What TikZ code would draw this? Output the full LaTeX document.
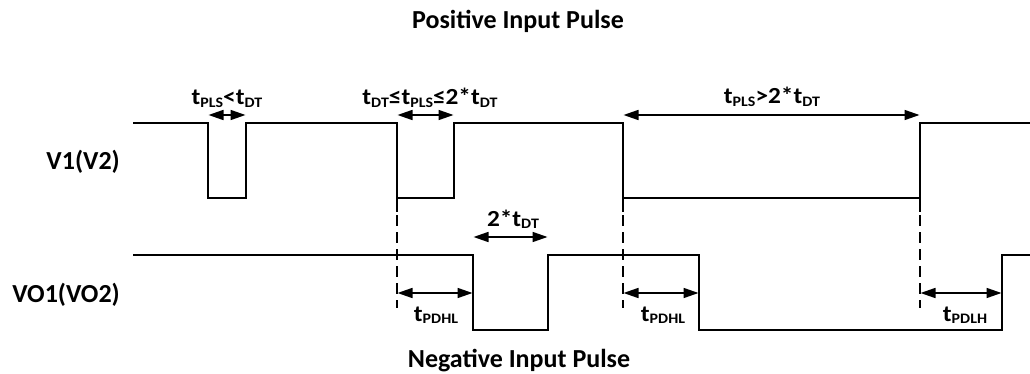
\documentclass[tikz,border=0pt]{standalone}
\usepackage{fontspec}
\setmainfont{Carlito}
\usetikzlibrary{arrows.meta}
\newcommand\sbx[1]{\raisebox{-2.5pt}{\fontsize{14.5}{14.5}\selectfont #1}}
\newcommand\wlab[1]{\scalebox{1.1}[1]{#1}}
\tikzset{
  wave/.style={line width=1.6pt, line join=miter},
  guide/.style={line width=1.6pt, dash pattern=on 11pt off 6pt},
  span/.style={line width=1.6pt, {Triangle[length=15pt,width=10pt]}-{Triangle[length=15pt,width=10pt]}, shorten <=0.5pt, shorten >=0.5pt},
  title/.style={font=\bfseries\fontsize{26}{30}\selectfont, inner sep=0pt, anchor=base},
  sig/.style={font=\bfseries\fontsize{26}{30}\selectfont, inner sep=0pt, anchor=base east},
  tlab/.style={font=\bfseries\fontsize{23}{26}\selectfont, inner sep=0pt, anchor=base}
}
\begin{document}
\begin{tikzpicture}[x=1pt,y=-1pt]
\useasboundingbox (0,0) rectangle (1030,374);
% V1 waveform coordinates
\coordinate (v0) at (133,123);
\coordinate (va1h) at (208,123); \coordinate (va1l) at (208,198);
\coordinate (va2l) at (246,198); \coordinate (va2h) at (246,123);
\coordinate (vb1h) at (397,123); \coordinate (vb1l) at (397,198);
\coordinate (vb2l) at (454,198); \coordinate (vb2h) at (454,123);
\coordinate (vc1h) at (623,123); \coordinate (vc1l) at (623,198);
\coordinate (vc2l) at (920,198); \coordinate (vc2h) at (920,123);
\coordinate (vend) at (1031,123);
% VO1 waveform coordinates
\coordinate (o0) at (133,255);
\coordinate (od1h) at (473,255); \coordinate (od1l) at (473,330);
\coordinate (od2l) at (548,330); \coordinate (od2h) at (548,255);
\coordinate (oe1h) at (699,255); \coordinate (oe1l) at (699,330);
\coordinate (oe2l) at (1002,330); \coordinate (oe2h) at (1002,255);
\coordinate (oend) at (1031,255);
% guide ends
\coordinate (gb) at (397,308); \coordinate (gc1) at (623,308); \coordinate (gc2) at (920,308);

\draw[wave] (v0) -- (va1h) -- (va1l) -- (va2l) -- (va2h) -- (vb1h) -- (vb1l) -- (vb2l) -- (vb2h) -- (vc1h) -- (vc1l) -- (vc2l) -- (vc2h) -- (vend);
\draw[wave] (o0) -- (od1h) -- (od1l) -- (od2l) -- (od2h) -- (oe1h) -- (oe1l) -- (oe2l) -- (oe2h) -- (oend);
\draw[wave] (vb1l) -- ++(0,14);
\draw[wave] (vc1l) -- ++(0,14);
\draw[wave] (vc2l) -- ++(0,14);

\draw[guide] (vb1l) -- (gb);
\draw[guide] (vc1l) -- (gc1);
\draw[guide] (vc2l) -- (gc2);

% span arrows
\coordinate (s1a) at (208,115); \coordinate (s1b) at (246,115);
\coordinate (s2a) at (397,115); \coordinate (s2b) at (454,115);
\coordinate (s3a) at (623,115); \coordinate (s3b) at (920,115);
\coordinate (s4a) at (473,237); \coordinate (s4b) at (548,237);
\coordinate (s5a) at (397,293); \coordinate (s5b) at (473,293);
\coordinate (s6a) at (623,293); \coordinate (s6b) at (699,293);
\coordinate (s7a) at (920,293); \coordinate (s7b) at (1002,293);
\draw[span] (s1a) -- (s1b);
\draw[span] (s2a) -- (s2b);
\draw[span] (s3a) -- (s3b);
\draw[span] (s4a) -- (s4b);
\draw[span] (s5a) -- (s5b);
\draw[span] (s6a) -- (s6b);
\draw[span] (s7a) -- (s7b);

% labels
\node[title] (ttop) at (518,29) {Positive Input Pulse};
\node[title] (tbot) at (519,367) {Negative Input Pulse};
\node[sig] (lv1) at (120,170) {V1(V2)};
\node[sig] (lvo) at (120,302) {VO1(VO2)};
\node[tlab] (l1) at (227,105) {\wlab{t\sbx{PLS}<t\sbx{DT}}};
\node[tlab] (l2) at (430,105) {\wlab{t\sbx{DT}≤t\sbx{PLS}≤2*t\sbx{DT}}};
\node[tlab] (l3) at (772,104) {\wlab{t\sbx{PLS}>2*t\sbx{DT}}};
\node[tlab] (l4) at (513,226) {\wlab{2*t\sbx{DT}}};
\node[tlab] (l5) at (436,321) {\wlab{t\sbx{PDHL}}};
\node[tlab] (l6) at (663,321) {\wlab{t\sbx{PDHL}}};
\node[tlab] (l7) at (965,321) {\wlab{t\sbx{PDLH}}};
\end{tikzpicture}
\end{document}
